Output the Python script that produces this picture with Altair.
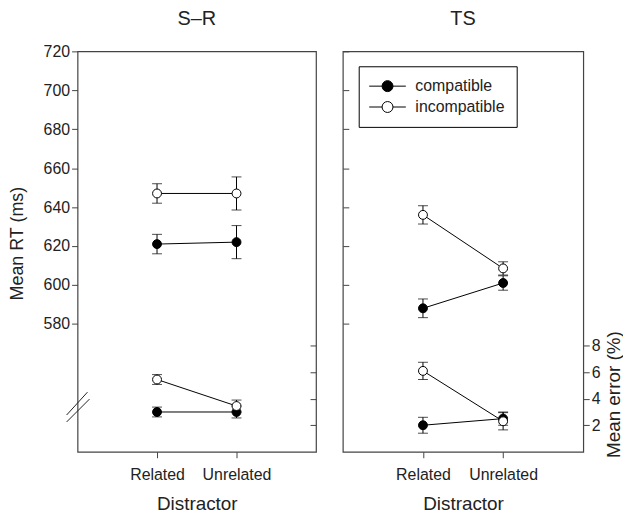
import altair as alt
import pandas as pd

panels = ["S–R", "TS"]
distractors = ["Related", "Unrelated"]
conditions = ["compatible", "incompatible"]

# S–R panel (values per distractor: Related, Unrelated)
sr_rt_compatible = [621, 622]
sr_rt_compatible_se = [5.0, 8.5]
sr_rt_incompatible = [647, 647]
sr_rt_incompatible_se = [5.0, 8.5]
sr_err_compatible = [3.0, 3.0]
sr_err_compatible_se = [0.37, 0.45]
sr_err_incompatible = [5.45, 3.45]
sr_err_incompatible_se = [0.37, 0.45]

# TS panel
ts_rt_compatible = [588, 601]
ts_rt_compatible_se = [4.8, 3.7]
ts_rt_incompatible = [636, 608.5]
ts_rt_incompatible_se = [4.7, 3.4]
ts_err_compatible = [2.0, 2.5]
ts_err_compatible_se = [0.6, 0.5]
ts_err_incompatible = [6.1, 2.3]
ts_err_incompatible_se = [0.65, 0.65]

rt_ticks = [580, 600, 620, 640, 660, 680, 700, 720]
err_ticks = [2, 4, 6, 8]
rt_domain = [514.3, 720]
err_domain = [0, 30.2]

rows = []
series = {
    "S–R": {
        "compatible": (sr_rt_compatible, sr_rt_compatible_se, sr_err_compatible, sr_err_compatible_se),
        "incompatible": (sr_rt_incompatible, sr_rt_incompatible_se, sr_err_incompatible, sr_err_incompatible_se),
    },
    "TS": {
        "compatible": (ts_rt_compatible, ts_rt_compatible_se, ts_err_compatible, ts_err_compatible_se),
        "incompatible": (ts_rt_incompatible, ts_rt_incompatible_se, ts_err_incompatible, ts_err_incompatible_se),
    },
}
for p in panels:
    for c in conditions:
        rt, rtse, er, erse = series[p][c]
        for i, d in enumerate(distractors):
            rows.append({
                "panel": p, "condition": c, "distractor": d,
                "rt": rt[i], "rt_lo": rt[i] - rtse[i], "rt_hi": rt[i] + rtse[i],
                "err": er[i], "err_lo": er[i] - erse[i], "err_hi": er[i] + erse[i],
            })
df = pd.DataFrame(rows)

FONT = "Liberation Sans"
INK = "#222222"
FRAME = "#444444"
PLOT_H = 403

legend_path = "M-3.35,0L-1,0M1,0L3.35,0M-1,0A1,1,0,1,1,1,0A1,1,0,1,1,-1,0Z"


def make_panel(name, left_panel):
    data = df[df["panel"] == name]
    base = alt.Chart(data)
    width = 240 if left_panel else 242

    x = alt.X(
        "distractor:N",
        scale=alt.Scale(type="point", padding=1, domain=distractors),
        axis=alt.Axis(title="Distractor", labelAngle=0, tickSize=6, domain=False,
                      labelFontSize=16, titleFontSize=19, labelPadding=9, titlePadding=12,
                      grid=False),
    )

    if left_panel:
        rt_axis = alt.Axis(orient="left", values=rt_ticks, title="Mean RT (ms)", tickSize=6,
                           labelPadding=2, labelFontSize=16, titleFontSize=18,
                           titleAngle=270, titleBaseline="alphabetic", titleAlign="center",
                           titleX=-55, titleY=193,
                           domain=False, grid=False)
        err_axis = alt.Axis(orient="right", values=err_ticks, labels=False, title=None,
                            tickSize=6, offset=-6, domain=False, grid=False)
        legend = None
    else:
        rt_axis = alt.Axis(orient="left", values=rt_ticks, labels=False, title=None,
                           tickSize=6, offset=-6, domain=False, grid=False)
        err_axis = alt.Axis(orient="right", values=err_ticks, title="Mean error (%)", tickSize=6,
                            labelPadding=2, labelFontSize=16, titleFontSize=19,
                            titleAngle=270, titleBaseline="alphabetic", titleAlign="center",
                            titleX=36, titleY=345,
                            domain=False, grid=False)
        legend = alt.Legend(orient="none", legendX=16, legendY=15, title=None,
                            symbolType=legend_path, symbolSize=121, symbolStrokeColor="black",
                            symbolStrokeWidth=1, symbolOffset=9, labelOffset=20,
                            labelFontSize=16, labelColor=INK, strokeColor="black",
                            labelExpr="datum.label + '\u00a0\u2002'",
                            fillColor="white", padding=12, rowPadding=5)

    fill = alt.Fill("condition:N", scale=alt.Scale(domain=conditions, range=["black", "white"]),
                    legend=legend)

    def layer_for(field, dom, axis):
        sc = alt.Scale(domain=dom, nice=False, zero=False)
        y = alt.Y(f"{field}:Q", scale=sc, axis=axis)
        ylo = alt.Y(f"{field}_lo:Q", scale=sc, axis=axis)
        yhi = alt.Y(f"{field}_hi:Q", scale=sc, axis=axis)
        line = base.mark_line(color="black", strokeWidth=1).encode(x=x, y=y, detail="condition:N")
        bar = base.mark_rule(color="black", strokeWidth=1).encode(x=x, y=ylo, y2=f"{field}_hi:Q")
        cap_lo = base.mark_tick(color="black", size=10, thickness=1).encode(x=x, y=ylo)
        cap_hi = base.mark_tick(color="black", size=10, thickness=1).encode(x=x, y=yhi)
        pts = base.mark_point(filled=True, size=80, stroke="black", strokeWidth=1, opacity=1).encode(
            x=x, y=y, fill=fill)
        return alt.layer(line, bar, cap_lo, cap_hi, pts)

    rt_layer = layer_for("rt", rt_domain, rt_axis)
    err_layer = layer_for("err", err_domain, err_axis)
    title_mark = alt.Chart(pd.DataFrame({"panel": [name]})).mark_text(
        fontSize=20, baseline="middle", align="center", color=INK, font=FONT
    ).encode(text="panel:N", x=alt.value(width / 2), y=alt.value(-33))
    layers = [rt_layer, err_layer, title_mark]
    if left_panel:
        brk = pd.DataFrame({"k": [0]})
        b1 = alt.Chart(brk).mark_rule(color=INK, strokeWidth=1).encode(
            x=alt.value(-11), x2=alt.value(10), y=alt.value(366), y2=alt.value(343))
        b2 = alt.Chart(brk).mark_rule(color=INK, strokeWidth=1).encode(
            x=alt.value(-11), x2=alt.value(12), y=alt.value(373), y2=alt.value(350))
        layers += [b1, b2]
    ch = alt.layer(*layers).resolve_scale(y="independent").properties(
        width=width, height=PLOT_H,
    )
    return ch


chart = alt.hconcat(make_panel("S–R", True), make_panel("TS", False), spacing=23).resolve_legend(
    fill="independent"
).properties(padding={"left": 0, "top": -2, "right": -1, "bottom": 0}).configure(
    font=FONT
).configure_axis(
    labelColor=INK, titleColor=INK, tickColor=FRAME, titleFontWeight="normal", labelFont=FONT,
    titleFont=FONT
).configure_view(
    stroke=FRAME, strokeWidth=1.2
)

chart.save("out.html", embed_options={"renderer": "svg", "actions": False})
